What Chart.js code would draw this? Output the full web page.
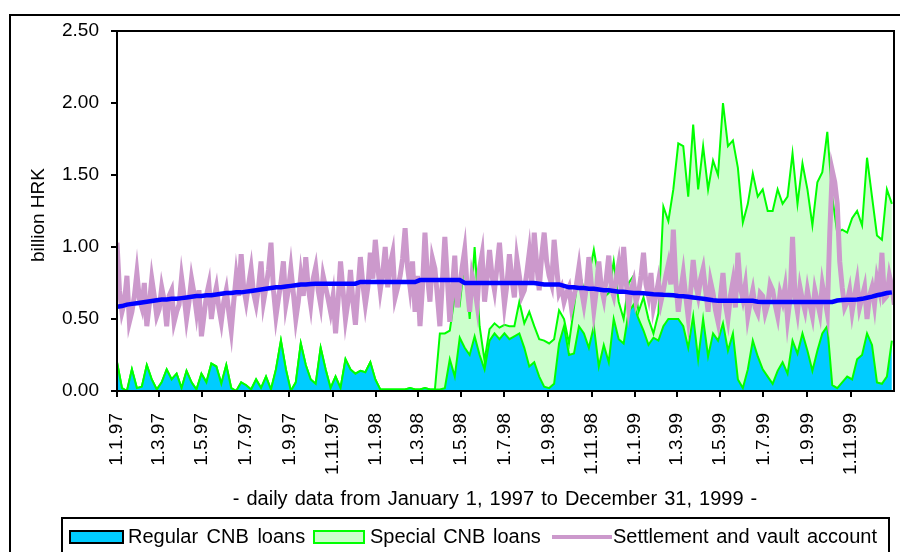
<!DOCTYPE html>
<html>
<head>
<meta charset="utf-8">
<title>CNB loans and settlement account</title>
<script src="https://cdn.jsdelivr.net/npm/chart.js@4.4.0/dist/chart.umd.min.js"></script>
<style>
  body { margin: 0; width: 900px; height: 552px; overflow: hidden; background: #fff; position: relative;
         font-family: "Liberation Sans", Arial, sans-serif; color: #000; }
  #frame { position: absolute; left: 9px; top: 14px; width: 1000px; height: 600px; border: 2px solid #000; box-sizing: border-box; }
  #chart { position: absolute; left: 0; top: 0; }
  .txt { position: absolute; white-space: nowrap; font-size: 20px; line-height: 20px; }
  #ytitle { left: 38px; top: 215px; font-size: 19px; transform: translate(-50%, -50%) rotate(-90deg); }
  #xtitle { left: 495px; top: 488px; transform: translateX(-50%); word-spacing: 1.5px; }
  #legend { position: absolute; left: 61px; top: 517px; width: 829px; height: 60px; border: 2px solid #000; box-sizing: border-box; }
  .box { position: absolute; top: 530px; height: 14px; box-sizing: border-box; border: 2px solid #000; }
</style>
</head>
<body>
<div id="frame"></div>
<canvas id="chart" width="900" height="552"></canvas>
<div class="txt" id="ytitle">billion HRK</div>
<div class="txt" id="xtitle">- daily data from January 1, 1997 to December 31, 1999 -</div>
<div id="legend"></div>
<div class="box" style="left:69px;width:55px;background:#00CCFF;border-color:#000"></div>
<div class="txt" style="left:128px;top:526px;word-spacing:3px">Regular CNB loans</div>
<div class="box" style="left:313px;width:52px;background:#CCFFCC;border-color:#00FF00"></div>
<div class="txt" style="left:370px;top:526px;word-spacing:2px">Special CNB loans</div>
<div style="position:absolute;left:552px;top:535px;width:60px;height:4px;background:#CC99CC"></div>
<div class="txt" style="left:613px;top:526px;word-spacing:2px">Settlement and vault account</div>

<script>
// values (billion HRK), counted from 1.1.1997
// loans and the blue line: one sample a week; settlement account: two a week
const loanStep = 7;
const settleStep = 3.5;

const regular = [
  0.20,0.02,0.00,0.15,0.02,0.03,0.18,0.08,0.01,0.06,
  0.15,0.08,0.12,0.02,0.14,0.06,0.01,0.12,0.06,0.19,
  0.17,0.05,0.18,0.02,0.00,0.06,0.04,0.01,0.08,0.02,
  0.10,0.01,0.15,0.35,0.15,0.00,0.06,0.33,0.18,0.08,
  0.05,0.30,0.15,0.02,0.10,0.02,0.22,0.15,0.12,0.14,
  0.13,0.20,0.08,0.01,0.01,0.01,0.01,0.01,0.01,0.02,
  0.01,0.01,0.02,0.01,0.01,0.01,0.02,0.22,0.10,0.37,
  0.30,0.25,0.38,0.25,0.15,0.35,0.40,0.36,0.40,0.36,
  0.38,0.40,0.30,0.17,0.20,0.10,0.03,0.02,0.05,0.33,
  0.45,0.25,0.26,0.45,0.40,0.30,0.45,0.17,0.32,0.20,
  0.50,0.36,0.33,0.55,0.60,0.50,0.42,0.32,0.37,0.35,
  0.45,0.50,0.50,0.50,0.45,0.30,0.52,0.22,0.50,0.24,
  0.40,0.35,0.47,0.28,0.40,0.08,0.02,0.15,0.35,0.24,
  0.15,0.10,0.05,0.14,0.20,0.12,0.35,0.26,0.40,0.28,
  0.14,0.28,0.40,0.45,0.04,0.02,0.06,0.10,0.08,0.22,
  0.25,0.40,0.32,0.06,0.05,0.10,0.35
];

const special = [
  0,0,0,0,0,0,0,0,0,0,
  0,0,0,0,0,0,0,0,0,0,
  0,0,0,0,0,0,0,0,0,0,
  0,0,0,0,0,0,0,0,0,0,
  0,0,0,0,0,0,0,0,0,0,
  0,0,0,0,0,0,0,0,0,0,
  0,0,0,0,0,0.39,0.38,0.20,0.56,0.23,
  0.61,0.25,0.62,0.20,0.06,0.08,0.07,0.08,0.06,0.09,
  0.07,0.22,0.17,0.38,0.25,0.26,0.32,0.31,0.31,0.23,
  0.05,0.08,0.32,0.39,0.30,0.50,0.53,0.61,0.33,0.48,
  0.40,0.26,0.17,0.20,0.20,0.05,0.23,0.18,0.03,0.19,
  0.83,0.68,0.90,1.22,1.25,1.05,1.33,1.18,1.20,1.16,
  1.20,1.15,1.53,1.42,1.34,1.47,1.15,1.15,1.16,1.11,
  1.25,1.15,1.20,1.26,1.10,1.23,1.30,1.04,1.18,1.12,
  1.01,1.17,1.12,1.35,1.31,1.08,1.06,1.00,1.12,1.03,
  0.90,1.22,1.03,1.02,1.00,1.30,0.95
];

const settlement = [
  1.03,0.70,0.55,0.62,0.80,0.48,0.55,0.66,0.82,0.64,0.58,0.75,0.45,0.60,0.78,0.66,0.52,0.57,0.72,0.63,
  0.45,0.66,0.70,0.48,0.55,0.60,0.79,0.66,0.50,0.62,0.78,0.68,0.55,0.70,0.38,0.52,0.66,0.74,0.50,0.64,
  0.72,0.58,0.48,0.62,0.70,0.55,0.42,0.62,0.80,0.66,0.95,0.72,0.62,0.74,0.85,0.68,0.60,0.72,0.90,0.62,
  0.72,0.84,1.03,0.70,0.52,0.64,0.75,0.90,0.60,0.70,0.85,0.68,0.50,0.62,0.80,0.66,0.93,0.72,0.60,0.78,
  0.86,0.70,0.60,0.80,0.72,0.64,0.55,0.66,0.40,0.62,0.90,0.70,0.50,0.62,0.84,0.62,0.46,0.70,0.93,0.74,
  0.60,0.72,0.96,0.78,1.05,0.86,0.70,0.82,1.00,0.72,0.88,0.96,0.65,0.72,0.80,0.92,1.13,0.86,0.72,0.90,
  0.55,0.80,0.45,0.72,1.10,0.80,0.62,0.92,0.85,0.66,0.45,0.76,1.07,0.78,0.48,0.70,0.94,0.58,0.72,0.86,
  0.98,0.72,0.55,0.80,0.72,0.60,0.85,0.95,0.62,0.78,0.98,0.80,0.70,0.86,1.03,0.80,0.60,0.74,0.95,0.78,
  0.65,0.92,0.80,0.66,0.70,0.82,0.96,0.74,1.10,0.88,0.70,0.94,1.10,0.90,0.80,0.74,1.05,0.86,0.68,0.72,
  0.62,0.68,0.72,0.58,0.66,0.74,0.86,0.70,0.60,0.72,0.93,0.74,0.56,0.70,0.90,0.72,0.64,0.78,0.94,0.72,
  0.66,0.78,0.88,0.70,1.00,0.76,0.58,0.70,0.76,0.62,0.68,0.80,0.96,0.74,0.66,0.82,0.58,0.66,0.76,0.62,
  0.70,0.80,0.88,0.74,1.12,0.76,0.55,0.70,0.82,0.66,0.51,0.70,0.91,0.74,0.66,0.78,0.85,0.70,0.55,0.76,
  0.68,0.56,0.48,0.66,0.82,0.60,0.50,0.66,0.76,0.58,0.96,0.72,0.64,0.74,0.52,0.62,0.70,0.58,0.54,0.68,
  0.66,0.54,0.60,0.74,0.70,0.60,0.52,0.68,0.62,0.72,0.50,0.64,1.07,0.66,0.55,0.72,0.63,0.56,0.70,0.60,
  0.52,0.70,0.62,0.54,0.74,0.64,0.54,1.10,1.53,1.45,1.30,0.90,0.72,0.58,0.62,0.70,0.55,0.66,0.76,0.58,
  0.65,0.72,0.50,0.66,0.72,0.60,0.78,0.70,0.96,0.64,0.66,0.80,0.72,0.60
];

// thick blue line (not in the legend)
const averageLine = [
  0.585,0.59,0.60,0.605,0.61,0.615,0.62,0.625,0.63,0.635,
  0.635,0.64,0.64,0.645,0.65,0.655,0.66,0.66,0.665,0.665,
  0.67,0.675,0.68,0.68,0.685,0.685,0.69,0.695,0.70,0.705,
  0.71,0.715,0.72,0.72,0.725,0.73,0.735,0.74,0.74,0.743,
  0.745,0.745,0.745,0.745,0.745,0.745,0.745,0.745,0.745,0.757,
  0.757,0.757,0.757,0.757,0.757,0.757,0.757,0.757,0.757,0.757,
  0.757,0.77,0.77,0.77,0.77,0.77,0.77,0.77,0.77,0.77,
  0.75,0.75,0.75,0.75,0.75,0.75,0.75,0.75,0.75,0.75,
  0.75,0.75,0.75,0.75,0.75,0.745,0.74,0.74,0.74,0.74,
  0.73,0.72,0.72,0.715,0.715,0.71,0.71,0.705,0.70,0.70,
  0.695,0.69,0.69,0.685,0.68,0.68,0.678,0.675,0.672,0.67,
  0.668,0.667,0.665,0.66,0.658,0.655,0.65,0.645,0.64,0.635,
  0.63,0.627,0.627,0.627,0.627,0.627,0.627,0.627,0.627,0.62,
  0.618,0.618,0.618,0.618,0.618,0.618,0.618,0.618,0.618,0.618,
  0.618,0.618,0.618,0.618,0.618,0.628,0.632,0.633,0.634,0.635,
  0.64,0.648,0.655,0.665,0.672,0.68,0.685
];

// x ticks: first day of every second month, counted in days from 1.1.97
const tickDays = [0, 59, 120, 181, 243, 304, 365, 424, 485, 546, 608, 669, 730, 789, 850, 911, 973, 1034];
const tickLabels = ["1.1.97", "1.3.97", "1.5.97", "1.7.97", "1.9.97", "1.11.97",
                    "1.1.98", "1.3.98", "1.5.98", "1.7.98", "1.9.98", "1.11.98",
                    "1.1.99", "1.3.99", "1.5.99", "1.7.99", "1.9.99", "1.11.99"];

function points(values, step) {
  return values.map((v, i) => ({ x: i * step, y: v }));
}

const tickFont = { family: "'Liberation Sans', Arial, sans-serif", size: 19 };

const plotFrame = {
  id: "plotFrame",
  afterDatasetsDraw(chart) {
    const a = chart.chartArea;
    const c = chart.ctx;
    c.save();
    c.strokeStyle = "#000";
    c.lineWidth = 2;
    c.strokeRect(a.left, a.top, a.right - a.left, a.bottom - a.top);
    c.restore();
  }
};

new Chart(document.getElementById("chart"), {
  type: "line",
  data: {
    datasets: [
      { label: "Regular CNB loans", data: points(regular, loanStep), stack: "loans", order: 2,
        borderColor: "#00FF00", backgroundColor: "#00CCFF", borderWidth: 2, fill: "origin" },
      { label: "Special CNB loans", data: points(special, loanStep), stack: "loans", order: 3,
        borderColor: "#00FF00", backgroundColor: "#CCFFCC", borderWidth: 2, fill: "-1" },
      { label: "Settlement and vault account", data: points(settlement, settleStep), stack: "settle", order: 1,
        borderColor: "#CC99CC", borderWidth: 5, fill: false },
      { label: "average", data: points(averageLine, loanStep), stack: "avg", order: 0,
        borderColor: "#0000FF", borderWidth: 4.5, fill: false }
    ]
  },
  options: {
    responsive: false,
    animation: false,
    events: [],
    elements: { point: { radius: 0 }, line: { tension: 0 } },
    layout: { padding: { left: 0, top: 31, right: 6, bottom: 0 } },
    plugins: { legend: { display: false }, tooltip: { enabled: false } },
    scales: {
      x: {
        type: "linear", min: 0, max: 1095,
        afterBuildTicks: s => { s.ticks = tickDays.map(d => ({ value: d })); },
        afterFit: s => { s.height = 161; },
        ticks: { autoSkip: false, minRotation: 90, maxRotation: 90, padding: 16, color: "#000", font: tickFont,
                 callback: (v, i) => tickLabels[i] },
        grid: { drawOnChartArea: false, color: "#000", lineWidth: 2, tickLength: 6 },
        border: { display: false }
      },
      y: {
        stacked: true, min: 0, max: 2.5,
        afterFit: s => { s.width = 117; },
        ticks: { stepSize: 0.5, padding: 12, color: "#000", font: tickFont, callback: v => v.toFixed(2) },
        grid: { drawOnChartArea: false, color: "#000", lineWidth: 2, tickLength: 6 },
        border: { display: false }
      }
    }
  },
  plugins: [plotFrame]
});
</script>
</body>
</html>
